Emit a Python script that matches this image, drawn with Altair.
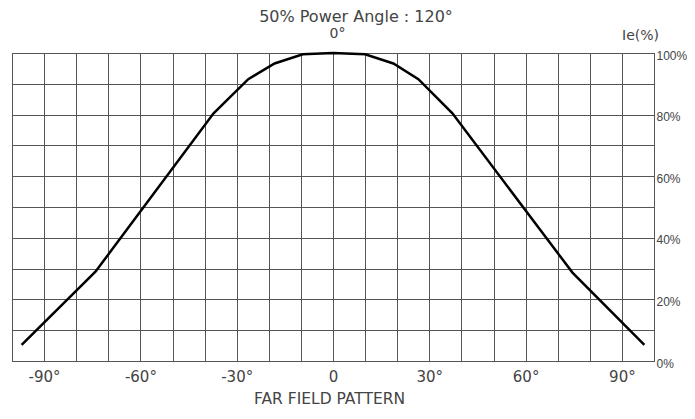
import altair as alt
import pandas as pd

# Far-field pattern: angle (deg) vs relative intensity Ie (%)
angle = [-97, -74, -37.2, -26.4, -18.2, -9.4, 0, 10, 18.8, 26.6, 37.2, 74.6, 97]
ie = [5.2, 29, 80.4, 91.5, 96.6, 99.6, 100, 99.6, 96.6, 91.5, 80.4, 28.7, 5.2]

x_grid = list(range(-100, 101, 10))
y_grid = list(range(0, 101, 10))

df = pd.DataFrame({"angle": angle, "ie": ie})

FONT = "DejaVu Sans"
FONT2 = "Liberation Sans"
TXT = "#444444"

W = 642
H = 308

xscale = alt.Scale(domain=[-100, 100], nice=False, zero=False)
yscale = alt.Scale(domain=[0, 100], nice=False)

y_enc = alt.Y(
    "ie:Q",
    scale=yscale,
    axis=alt.Axis(
        orient="right",
        values=y_grid,
        labelExpr="datum.value % 20 == 0 ? datum.value + '%' : ''",
        labelFont=FONT2,
        labelFontSize=12,
        title="Ie(%)",
        titleFontSize=14,
        titleAngle=0,
        titleX=-14,
        titleY=-18,
        titleAlign="center",
        titleBaseline="middle",
        ticks=False,
        domain=False,
        labelPadding=2,
        labelOffset=2,
        labelFlush=False,
        labelOverlap=False,
    ),
)

line = (
    alt.Chart(df)
    .mark_line(color="black", strokeWidth=2.5)
    .encode(
        x=alt.X(
            "angle:Q",
            scale=xscale,
            axis=alt.Axis(
                values=x_grid,
                labelExpr="datum.value % 30 == 0 ? (datum.value == 0 ? '0' : datum.value + '°') : ''",
                title="FAR FIELD PATTERN",
                titleX=317,
                titleY=37,
                titleAlign="center",
                titleBaseline="middle",
                titleFontSize=15.5,
                ticks=False,
                domain=False,
                labelPadding=8,
                labelFontSize=15,
                labelFlush=False,
                labelOverlap=False,
            ),
        ),
        y=y_enc,
    )
)

top = (
    alt.Chart(df)
    .mark_line(opacity=0)
    .encode(
        x=alt.X(
            "angle:Q",
            scale=xscale,
            axis=alt.Axis(
                orient="top",
                title="0°",
                titleFontSize=14,
                titleX=325,
                titleY=-20,
                titleAlign="center",
                titleBaseline="middle",
                labels=False,
                ticks=False,
                domain=False,
                grid=False,
            ),
        ),
        y=y_enc,
    )
)

chart = (
    alt.layer(line, top)
    .resolve_axis(x="independent")
    .properties(
        width=W,
        height=H,
        title=alt.TitleParams(
            text="50% Power Angle : 120°",
            anchor="middle",
            dx=23,
            offset=1,
            fontSize=16,
            font=FONT,
            fontWeight="normal",
            color=TXT,
        ),
        autosize=alt.AutoSizeParams(type="none"),
        padding={"left": 4, "top": 45, "right": 33, "bottom": 46},
    )
    .configure_view(stroke="#333", strokeWidth=1)
    .configure_axis(
        grid=True,
        gridColor="#555",
        gridOpacity=1,
        gridWidth=1,
        labelFont=FONT,
        titleFont=FONT,
        labelColor=TXT,
        titleColor=TXT,
        titleFontWeight="normal",
    )
)

chart.save("out.html", embed_options={"renderer": "svg", "actions": False})
